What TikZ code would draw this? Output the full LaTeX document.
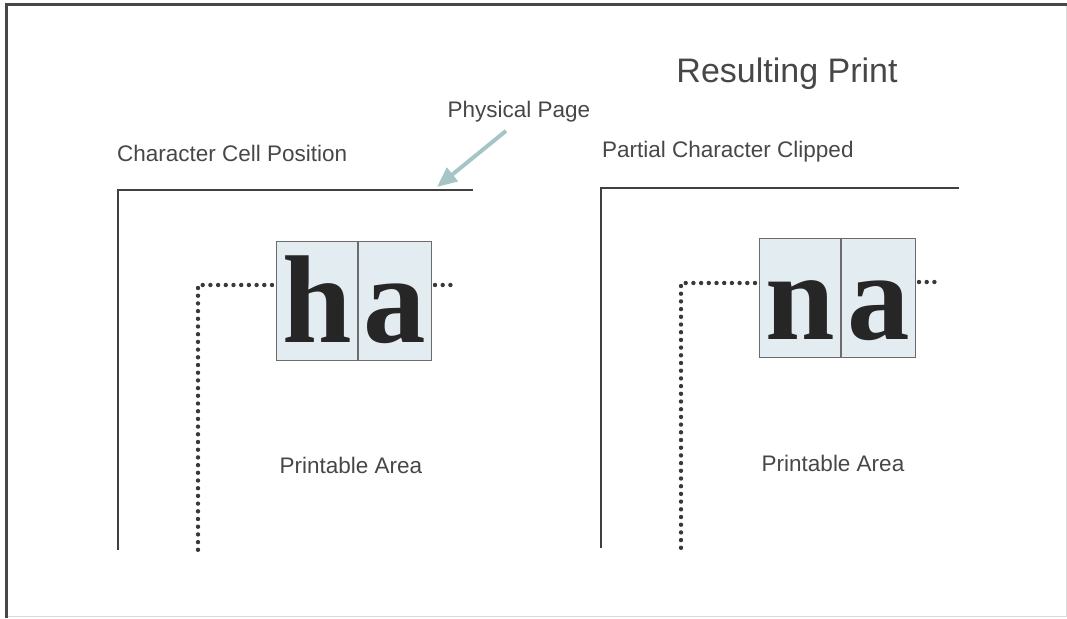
\documentclass[tikz,border=0pt]{standalone}
\usepackage{fontspec}
\setmainfont{Liberation Sans}
\newfontfamily\cellfont{Liberation Serif}
\usetikzlibrary{arrows.meta,positioning}
\definecolor{ink}{HTML}{474747}
\definecolor{cellfill}{HTML}{E3ECF1}
\definecolor{pointercol}{HTML}{A6C6C6}
\tikzset{
  label/.style={inner sep=0pt,text=ink,font=\fontsize{22.5}{27}\selectfont},
  page/.style={draw=ink!90!black,line width=2pt},
  printable/.style={draw=ink!80!black,line width=4.4pt,line cap=round,dash pattern=on 0pt off 7.7pt},
  cellbox/.style={draw=ink!80,line width=1.1pt,fill=cellfill,minimum width=#1,minimum height=119pt,inner sep=0pt,anchor=north west},
  glyph/.style={inner sep=0pt,anchor=base,text=black!85,font=\cellfont\bfseries\fontsize{125}{125}\selectfont},
  pointer/.style={draw=pointercol,line width=4pt,-{Triangle[length=20pt,width=17pt]}}
}
\begin{document}
\begin{tikzpicture}[x=1pt,y=-1pt]
\useasboundingbox (0,0) rectangle (1067,618);
% frame
\draw[black!15,line width=1pt] (6,616) -- (1066,616) -- (1066,5);
\draw[ink,line width=3pt] (1067,5) -- (6,5) -- (6,618);

% headings
\node[label,anchor=base,font=\fontsize{34}{40}\selectfont] (title) at (787,82) {Resulting Print};
\node[label,anchor=base] (phys) at (519,117) {Physical Page};
\node[label,anchor=base west] (celpos) at (117,161) {Character Cell Position};
\node[label,anchor=base west] (clip) at (602,157) {Partial Character Clipped};

% left: physical page and printable area
\coordinate (pgL) at (118,190);
\draw[page] (473,190) -- (pgL) -- (118,550);
\node[cellbox=81pt] (hcell) at (276,241) {};
\node[cellbox=73pt] (acell) at (hcell.north east) {};
\node[glyph] (hch) at ([yshift=19pt]hcell.south) {h};
\node[glyph] (ach) at ([yshift=19pt]acell.south) {a};
\coordinate (prL) at (198,285);
\draw[printable] (272,285) -- (prL) -- (198,550);
\draw[printable] (435,285) -- (455,285);
\node[label,anchor=base] (areaL) at (351,473) {Printable Area};

% arrow to the page edge
\coordinate (edge) at (437,187);
\draw[pointer] ([xshift=-13pt,yshift=-9pt]phys.south) -- (edge);

% right: partial character clipped
\coordinate (pgR) at (601,188);
\draw[page] (959,188) -- (pgR) -- (601,548);
\node[cellbox=81pt] (ncell) at (759,238) {};
\node[cellbox=74pt] (bcell) at (ncell.north east) {};
\node[glyph] (nch) at ([yshift=19pt]ncell.south) {n};
\node[glyph] (bch) at ([yshift=19pt]bcell.south) {a};
\coordinate (prR) at (681,283);
\draw[printable] (755,283) -- (prR) -- (681,548);
\draw[printable] (919,282) -- (940,282);
\node[label,anchor=base] (areaR) at (833,471) {Printable Area};
\end{tikzpicture}
\end{document}
